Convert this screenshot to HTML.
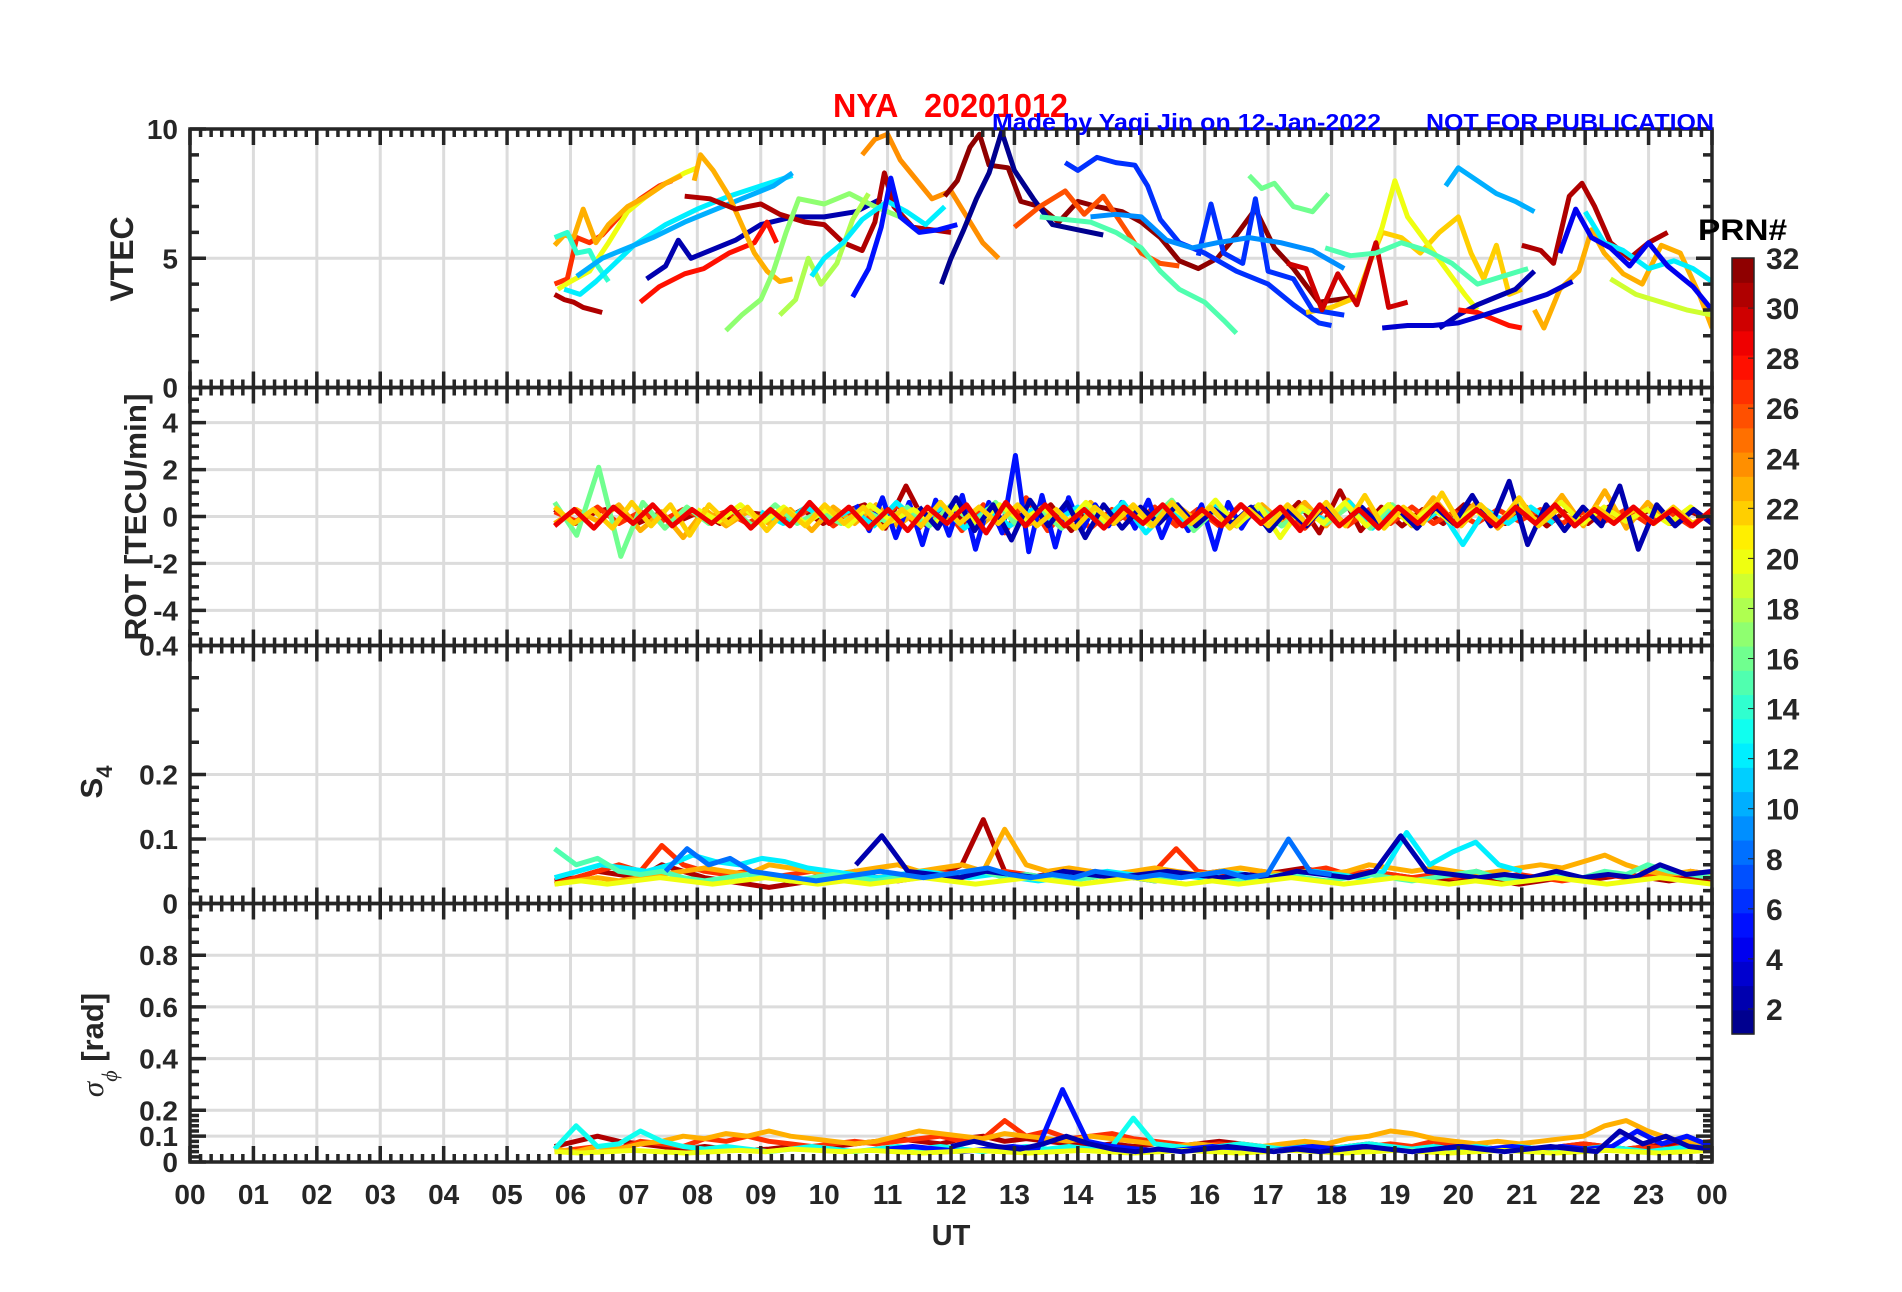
<!DOCTYPE html>
<html><head><meta charset="utf-8">
<style>
html,body{margin:0;padding:0;background:#fff;}
svg{display:block;font-family:"Liberation Sans",Arial,sans-serif;}
</style></head>
<body>
<svg id="fig" width="1902" height="1292" viewBox="0 0 1902 1292" xmlns="http://www.w3.org/2000/svg">
<rect width="1902" height="1292" fill="#fff"/>
<g id="grid"></g>
<g id="series"></g>
<g id="axes"></g>
<g id="cbar"></g>
<text x="833" y="117" font-size="33" font-weight="bold" fill="#ff0000" textLength="235" lengthAdjust="spacingAndGlyphs" xml:space="preserve">NYA   20201012</text>
<text x="992" y="130" font-size="23" font-weight="bold" fill="#0000ff" textLength="389" lengthAdjust="spacingAndGlyphs">Made by Yaqi Jin on 12-Jan-2022</text>
<text x="1426" y="130" font-size="23" font-weight="bold" fill="#0000ff" textLength="288" lengthAdjust="spacingAndGlyphs">NOT FOR PUBLICATION</text>
<text transform="translate(133,259) rotate(-90)" text-anchor="middle" font-size="32" font-weight="bold" fill="#262626">VTEC</text>
<text transform="translate(146,517) rotate(-90)" text-anchor="middle" font-size="31" font-weight="bold" fill="#262626" textLength="247" lengthAdjust="spacingAndGlyphs">ROT [TECU/min]</text>
<text transform="translate(102,782) rotate(-90)" text-anchor="middle" font-size="31" font-weight="bold" fill="#262626">S<tspan font-size="22" dy="10">4</tspan></text>
<text transform="translate(103,1045) rotate(-90)" text-anchor="middle" font-size="31" font-weight="bold" fill="#262626"><tspan font-family="'Liberation Serif',serif" font-style="italic" font-weight="normal">σ</tspan><tspan font-family="'Liberation Serif',serif" font-style="italic" font-weight="normal" font-size="22" dy="14">ϕ</tspan><tspan dy="-14"> [rad]</tspan></text>
<text x="951" y="1245" text-anchor="middle" font-size="29" font-weight="bold" fill="#262626">UT</text>
<text x="1698" y="240" font-size="30" font-weight="bold" fill="#000" textLength="89" lengthAdjust="spacingAndGlyphs">PRN#</text>
</svg>
<script>
// ---------------- data ----------------
const hourTicks = ["00","01","02","03","04","05","06","07","08","09","10","11","12","13","14","15","16","17","18","19","20","21","22","23","00"];
const vtecTicks = [0,5,10];
const rotTicks = [-4,-2,0,2,4];
const s4Ticks = [0,0.1,0.2,0.4];
const sigTicks = [0,0.1,0.2,0.4,0.6,0.8];
const cbarTicks = [2,4,6,8,10,12,14,16,18,20,22,24,26,28,30,32];

// VTEC series: prn, then [hour, TECU] points
const vtecPrn = [31,27,20,23,14,12,10,2,28,23,31,17,18,12,5,24,32,1,6,26,15,16,22,20,10,2,28,31,23,12,4,19,6,30,15,9,3];
const vtecPts = [
 [[5.75,3.6],[5.9,3.4],[6.05,3.3],[6.2,3.1],[6.35,3.0],[6.5,2.9]],
 [[5.75,4.0],[5.95,4.2],[6.1,5.8],[6.3,5.6],[6.5,5.9],[6.8,6.7],[7.1,7.3],[7.4,7.8],[7.6,8.0]],
 [[5.8,3.8],[6.0,4.1],[6.3,4.5],[6.6,5.6],[6.9,6.8],[7.2,7.4],[7.5,7.9],[7.8,8.3],[8.0,8.5]],
 [[5.75,5.5],[5.9,5.9],[6.05,5.8],[6.2,6.9],[6.4,5.6],[6.6,6.3],[6.9,7.0],[7.2,7.4],[7.5,7.9],[7.75,8.2]],
 [[5.75,5.8],[5.95,6.0],[6.1,5.2],[6.3,5.3],[6.4,4.8],[6.6,4.1]],
 [[5.9,3.8],[6.15,3.6],[6.4,4.1],[6.7,4.8],[7.0,5.5],[7.5,6.3],[8.0,6.9],[8.5,7.4],[9.0,7.8],[9.5,8.2]],
 [[6.1,4.3],[6.5,5.0],[6.8,5.3],[7.3,5.8],[7.8,6.4],[8.3,6.9],[8.8,7.4],[9.2,7.8],[9.5,8.3]],
 [[7.2,4.2],[7.5,4.7],[7.7,5.7],[7.9,5.0],[8.3,5.4],[8.6,5.7],[9.0,6.3],[9.5,6.6],[10.0,6.6],[10.5,6.8],[10.9,7.3]],
 [[7.1,3.3],[7.4,3.9],[7.8,4.4],[8.1,4.6],[8.5,5.2],[8.9,5.6],[9.1,6.4],[9.25,5.6]],
 [[7.95,8.0],[8.05,9.0],[8.25,8.4],[8.5,7.4],[8.7,6.3],[8.9,5.2],[9.1,4.5],[9.3,4.1],[9.5,4.2]],
 [[7.8,7.4],[8.2,7.3],[8.6,6.9],[9.0,7.1],[9.3,6.7],[9.7,6.4],[10.0,6.3],[10.3,5.6],[10.6,5.3],[10.8,6.4],[10.95,8.3],[11.1,7.0],[11.4,6.2],[11.7,6.1],[12.0,6.0]],
 [[8.45,2.2],[8.7,2.8],[9.0,3.4],[9.2,4.5],[9.4,6.0],[9.6,7.3],[10.0,7.1],[10.4,7.5],[10.8,7.0],[11.2,6.6]],
 [[9.3,2.8],[9.55,3.4],[9.75,5.0],[9.95,4.0],[10.2,4.8],[10.45,6.5],[10.7,7.5]],
 [[9.8,4.3],[10.0,5.0],[10.3,5.6],[10.6,6.5],[11.0,7.2],[11.3,6.8],[11.6,6.3],[11.9,7.0]],
 [[10.45,3.5],[10.7,4.6],[10.9,6.2],[11.05,8.1],[11.2,6.6],[11.5,6.0],[11.8,6.1],[12.1,6.3]],
 [[10.6,9.0],[10.8,9.6],[11.0,9.8],[11.2,8.8],[11.4,8.2],[11.7,7.3],[12.0,7.6],[12.2,6.8],[12.5,5.6],[12.75,5.0]],
 [[11.9,7.4],[12.1,8.0],[12.3,9.3],[12.45,9.8],[12.6,8.6],[12.9,8.5],[13.1,7.2],[13.4,7.0],[13.7,6.4],[14.0,7.2],[14.3,7.0],[14.7,6.8],[15.0,6.4],[15.3,5.8],[15.6,4.9],[15.9,4.6],[16.2,5.0],[16.5,5.9],[16.8,6.9],[17.1,5.4],[17.4,4.6],[17.8,3.3],[18.1,3.4],[18.4,3.5]],
 [[11.85,4.0],[12.0,5.0],[12.2,6.1],[12.4,7.3],[12.6,8.3],[12.8,9.9],[13.0,8.4],[13.3,7.3],[13.6,6.3],[14.0,6.1],[14.4,5.9]],
 [[13.8,8.7],[14.0,8.4],[14.3,8.9],[14.6,8.7],[14.9,8.6],[15.1,7.8],[15.3,6.5],[15.6,5.6],[16.0,5.2],[16.5,4.5],[17.0,4.0],[17.4,3.2],[17.8,2.5],[18.0,2.4]],
 [[13.0,6.2],[13.4,7.0],[13.8,7.6],[14.1,6.7],[14.4,7.4],[14.7,6.3],[15.0,5.2],[15.3,4.8],[15.6,4.7]],
 [[13.4,6.6],[13.8,6.5],[14.2,6.4],[14.6,6.0],[15.0,5.4],[15.3,4.5],[15.6,3.8],[16.0,3.3],[16.3,2.6],[16.5,2.1]],
 [[16.7,8.2],[16.9,7.7],[17.1,7.9],[17.4,7.0],[17.7,6.8],[17.95,7.5]],
 [[17.6,2.9],[18.0,3.1],[18.4,3.5],[18.6,4.8],[18.8,6.0],[19.1,5.8],[19.4,5.2],[19.7,6.0],[20.0,6.6],[20.2,5.2],[20.4,4.2],[20.6,5.5],[20.8,3.6],[21.0,3.8]],
 [[18.55,4.5],[18.8,6.2],[19.0,8.0],[19.2,6.6],[19.5,5.6],[19.8,4.6],[20.1,3.6],[20.3,3.0]],
 [[19.8,7.8],[20.0,8.5],[20.3,8.0],[20.6,7.5],[20.9,7.2],[21.2,6.8]],
 [[19.7,2.3],[20.0,2.8],[20.3,3.2],[20.6,3.5],[20.9,3.8],[21.2,4.5]],
 [[20.0,3.0],[20.3,2.9],[20.6,2.6],[20.8,2.4],[21.0,2.3]],
 [[21.0,5.5],[21.3,5.3],[21.5,4.8],[21.75,7.4],[21.95,7.9],[22.15,7.0],[22.4,5.6],[22.7,5.0],[23.0,5.6],[23.3,6.0]],
 [[21.2,3.0],[21.35,2.3],[21.6,3.8],[21.9,4.5],[22.1,6.1],[22.3,5.2],[22.6,4.4],[22.9,4.0],[23.2,5.5],[23.5,5.2],[23.8,3.6],[24.0,2.3]],
 [[22.0,6.8],[22.3,5.6],[22.6,5.3],[23.0,4.6],[23.4,4.9],[23.7,4.6],[24.0,4.1]],
 [[21.6,5.2],[21.85,6.9],[22.1,5.8],[22.4,5.4],[22.7,4.7],[23.0,5.6],[23.3,4.7],[23.7,3.9],[24.0,3.0]],
 [[22.4,4.2],[22.8,3.6],[23.2,3.3],[23.6,3.0],[24.0,2.8]],
 [[15.9,5.1],[16.1,7.1],[16.3,5.2],[16.6,4.8],[16.8,7.3],[17.0,4.5],[17.4,4.2],[17.7,3.0],[18.2,2.8]],
 [[17.3,4.8],[17.6,4.6],[17.85,3.0],[18.1,4.4],[18.4,3.2],[18.7,5.6],[18.9,3.1],[19.2,3.3]],
 [[17.9,5.4],[18.3,5.1],[18.7,5.2],[19.1,5.6],[19.5,5.3],[19.9,4.8],[20.3,4.0],[20.7,4.3],[21.1,4.6]],
 [[14.2,6.6],[14.6,6.7],[15.0,6.6],[15.4,5.7],[15.8,5.4],[16.2,5.6],[16.7,5.8],[17.2,5.6],[17.7,5.3],[18.2,4.6]],
 [[18.8,2.3],[19.2,2.4],[19.6,2.4],[20.0,2.5],[20.4,2.8],[20.9,3.2],[21.4,3.6],[21.8,4.1]]
];

// ROT series (TECU/min), evenly spaced between start and end hour
const rotPrn = [31,27,23,5,12,16,20,2,22,29];
const rotSpan = [[5.75,24],[5.75,24],[5.75,24],[10.5,17],[9,21.5],[5.75,20],[8,24],[11.5,24],[5.75,24],[5.75,24]];
const rotVals = [
 [0.3,-0.3,0.2,0.4,-0.3,0.1,-0.2,0.2,-0.3,0.2,0.1,-0.2,0.3,-0.3,0.2,0.5,-0.5,1.3,-0.4,0.3,-0.3,0.2,0.4,-0.3,0.5,-0.6,0.4,-0.3,0.3,-0.3,0.4,-0.4,0.3,-0.4,0.4,-0.3,0.6,-0.7,1.1,-0.6,0.4,-0.4,0.3,-0.3,0.5,0.3,-0.3,0.4,-0.4,0.3,-0.3,0.4,-0.2,0.3,-0.3,0.2,-0.2],
 [0.2,-0.2,0.4,-0.3,0.2,-0.2,0.3,-0.1,0.2,-0.3,0.2,-0.2,0.4,-0.4,0.3,-0.3,0.5,-0.5,0.6,-0.6,0.5,-0.7,0.8,-0.6,0.4,-0.5,0.3,-0.3,0.4,-0.4,0.3,-0.4,0.5,-0.3,0.3,-0.5,0.4,-0.4,0.3,-0.3,0.4,-0.3,0.2,-0.3,0.3,-0.2,0.3,-0.3,0.2,-0.2,0.3,-0.3,0.2,-0.4,0.2],
 [-0.3,0.3,-0.2,0.5,-0.6,0.2,-0.9,0.3,-0.4,0.2,-0.3,0.3,-0.6,0.4,-0.3,0.5,-0.4,0.3,-0.2,0.4,-0.3,0.5,-0.4,0.3,-0.3,0.6,-0.3,0.4,-0.3,0.5,-0.2,0.3,-0.4,0.5,-0.3,0.6,-0.4,0.7,-0.3,0.5,-0.4,0.8,-0.3,0.6,-0.5,0.4,-0.3,0.9,-0.4,1.1,-0.5,0.6,-0.3,0.4,-0.3],
 [0.5,-0.6,0.8,-0.9,0.6,-1.2,0.7,-0.8,0.9,-1.4,0.6,-0.7,2.6,-1.5,0.9,-1.3,0.8,-0.6,0.5,-0.4,0.6,-0.5,0.7,-0.9,0.4,-0.6,0.5,-1.4,0.6,-0.5,0.4,-0.4],
 [0.2,-0.3,0.4,-0.2,0.3,-0.4,0.6,-0.3,0.4,-0.5,0.3,-0.4,0.3,-0.2,0.4,-0.3,0.6,-0.7,0.3,-0.4,0.5,-0.3,0.4,-0.4,0.3,-0.2,0.6,-0.5,0.4,-0.4,0.3,-1.2,0.3,-0.3,0.4,-0.3],
 [0.6,-0.8,2.1,-1.7,0.6,-0.5,0.4,-0.3,0.3,-0.4,0.5,-0.3,0.2,-0.3,0.3,-0.2,0.4,-0.4,0.5,-0.3,0.6,-0.4,0.3,-0.5,0.4,-0.3,0.3,-0.2,0.7,-0.6,0.3,-0.3,0.4,-0.4,0.3,-0.3,0.4,-0.5,0.5,-0.4,0.3,-0.3],
 [0.3,-0.2,0.5,-0.3,0.4,-0.3,0.3,-0.4,0.5,-0.2,0.3,-0.3,0.4,-0.3,0.5,-0.2,0.4,-0.4,0.6,-0.3,0.3,-0.4,0.4,-0.3,0.7,-0.4,0.5,-0.9,0.4,-0.3,0.6,-0.4,0.5,-0.3,0.4,-0.3,0.3,-0.4,0.5,-0.3,0.6,-0.3,0.4,-0.2,0.3,-0.3,0.4,-0.3],
 [0.4,-0.5,0.8,-0.6,0.5,-1.0,0.7,-0.4,0.6,-0.9,0.5,-0.5,0.4,-0.3,0.5,-0.4,0.3,-0.3,0.4,-0.6,0.3,-0.4,0.5,-0.3,0.4,-0.4,0.3,-0.5,0.4,-0.3,0.9,-0.4,1.5,-1.2,0.5,-0.6,0.4,-0.4,1.3,-1.4,0.5,-0.4,0.3,-0.3],
 [0.4,-0.3,0.3,-0.5,0.6,-0.4,0.5,-0.8,0.5,-0.3,0.4,-0.6,0.3,-0.4,0.5,-0.3,0.4,-0.5,0.3,-0.4,0.6,-0.3,0.4,-0.3,0.5,-0.4,0.3,-0.5,0.4,-0.3,0.5,-0.4,0.6,-0.3,0.4,-0.5,0.3,-0.4,0.5,-0.3,0.6,-0.4,0.9,-0.5,0.4,-0.3,1.0,-0.4,0.5,-0.3,0.8,-0.4,0.3,-0.3,0.4,-0.2,0.3,-0.3,0.4,-0.3,0.2],
 [-0.4,0.3,-0.5,0.4,-0.3,0.5,-0.4,0.3,-0.3,0.4,-0.5,0.3,-0.4,0.6,-0.3,0.4,-0.5,0.3,-0.6,0.4,-0.3,0.5,-0.7,0.6,-0.4,0.5,-0.4,0.3,-0.5,0.4,-0.3,0.5,-0.4,0.3,-0.4,0.5,-0.3,0.4,-0.6,0.5,-0.4,0.3,-0.5,0.4,-0.3,0.5,-0.4,0.3,-0.4,0.4,-0.3,0.5,-0.4,0.3,-0.3,0.4,-0.3,0.3,-0.4,0.3]
];

// S4 series
const s4Prn = [31,27,23,12,15,2,20,8];
const s4Span = [[5.75,24],[5.75,24],[5.75,24],[5.75,21],[5.75,24],[10.5,24],[5.75,24],[7.5,18]];
const s4Vals = [
 [0.035,0.04,0.05,0.045,0.04,0.06,0.05,0.04,0.035,0.03,0.025,0.03,0.035,0.04,0.05,0.04,0.035,0.04,0.045,0.06,0.13,0.05,0.04,0.045,0.04,0.05,0.045,0.04,0.035,0.04,0.045,0.05,0.04,0.045,0.05,0.055,0.045,0.04,0.05,0.045,0.04,0.04,0.035,0.04,0.035,0.03,0.035,0.04,0.035,0.04,0.045,0.04,0.035,0.04,0.035],
 [0.03,0.04,0.05,0.06,0.05,0.09,0.06,0.05,0.045,0.05,0.04,0.045,0.05,0.04,0.035,0.04,0.045,0.04,0.05,0.04,0.045,0.05,0.045,0.04,0.05,0.04,0.045,0.04,0.05,0.085,0.05,0.045,0.04,0.05,0.045,0.05,0.055,0.045,0.05,0.045,0.04,0.045,0.04,0.05,0.04,0.045,0.04,0.035,0.04,0.045,0.04,0.045,0.04,0.05,0.045],
 [0.03,0.035,0.04,0.035,0.04,0.045,0.05,0.055,0.05,0.045,0.06,0.055,0.05,0.045,0.05,0.055,0.06,0.05,0.055,0.06,0.05,0.115,0.06,0.05,0.055,0.05,0.045,0.05,0.055,0.05,0.045,0.05,0.055,0.05,0.045,0.05,0.045,0.05,0.06,0.055,0.05,0.055,0.05,0.045,0.05,0.055,0.06,0.055,0.065,0.075,0.06,0.05,0.045,0.05,0.045],
 [0.04,0.05,0.06,0.055,0.05,0.06,0.075,0.065,0.06,0.07,0.065,0.055,0.05,0.045,0.04,0.045,0.05,0.045,0.04,0.045,0.04,0.035,0.04,0.045,0.05,0.045,0.04,0.045,0.04,0.05,0.045,0.04,0.045,0.05,0.045,0.04,0.05,0.11,0.06,0.08,0.095,0.06,0.05],
 [0.085,0.06,0.07,0.05,0.045,0.05,0.04,0.035,0.04,0.045,0.04,0.035,0.04,0.045,0.04,0.035,0.04,0.045,0.04,0.045,0.05,0.04,0.045,0.04,0.035,0.04,0.045,0.04,0.035,0.04,0.045,0.04,0.035,0.04,0.045,0.04,0.035,0.04,0.045,0.04,0.035,0.04,0.045,0.05,0.04,0.035,0.04,0.045,0.04,0.05,0.045,0.06,0.05,0.045,0.04],
 [0.06,0.105,0.05,0.045,0.04,0.05,0.045,0.04,0.05,0.045,0.04,0.045,0.05,0.045,0.04,0.045,0.04,0.05,0.045,0.04,0.05,0.105,0.05,0.045,0.04,0.045,0.04,0.05,0.04,0.045,0.04,0.06,0.045,0.05],
 [0.03,0.035,0.03,0.035,0.04,0.035,0.03,0.035,0.04,0.035,0.03,0.035,0.03,0.035,0.04,0.035,0.03,0.035,0.04,0.035,0.03,0.035,0.04,0.035,0.03,0.035,0.03,0.035,0.04,0.035,0.03,0.035,0.04,0.035,0.03,0.035,0.03,0.035,0.04,0.035,0.03,0.035,0.04,0.035,0.03],
 [0.05,0.085,0.06,0.07,0.05,0.045,0.04,0.035,0.04,0.045,0.05,0.045,0.04,0.045,0.05,0.055,0.045,0.04,0.045,0.04,0.05,0.045,0.04,0.045,0.04,0.045,0.05,0.04,0.045,0.1,0.05,0.045]
];

// sigma-phi series (rad)
const sigPrn = [31,27,23,13,5,20,2];
const sigSpan = [[5.75,24],[5.75,24],[5.75,24],[5.75,24],[11,24],[5.75,24],[12,24]];
const sigVals = [
 [0.06,0.08,0.1,0.08,0.07,0.06,0.05,0.06,0.05,0.045,0.05,0.06,0.05,0.06,0.07,0.08,0.09,0.08,0.07,0.09,0.1,0.08,0.09,0.08,0.07,0.06,0.07,0.06,0.07,0.06,0.07,0.08,0.07,0.06,0.05,0.06,0.05,0.06,0.07,0.06,0.05,0.06,0.07,0.06,0.05,0.06,0.05,0.06,0.07,0.06,0.05,0.06,0.07,0.06,0.07],
 [0.04,0.05,0.06,0.05,0.08,0.07,0.06,0.09,0.08,0.1,0.08,0.07,0.06,0.07,0.08,0.07,0.08,0.09,0.1,0.08,0.09,0.16,0.1,0.12,0.09,0.1,0.11,0.09,0.08,0.07,0.06,0.07,0.06,0.05,0.06,0.07,0.06,0.05,0.06,0.07,0.06,0.08,0.07,0.06,0.05,0.06,0.05,0.06,0.07,0.06,0.05,0.06,0.05,0.07,0.08],
 [0.05,0.04,0.06,0.05,0.07,0.08,0.1,0.09,0.11,0.1,0.12,0.1,0.09,0.08,0.07,0.08,0.1,0.12,0.11,0.1,0.09,0.11,0.1,0.09,0.08,0.1,0.09,0.08,0.07,0.06,0.07,0.06,0.07,0.06,0.07,0.08,0.07,0.09,0.1,0.12,0.11,0.09,0.08,0.07,0.08,0.07,0.08,0.09,0.1,0.14,0.16,0.12,0.09,0.08,0.07],
 [0.05,0.14,0.06,0.07,0.12,0.08,0.06,0.05,0.06,0.05,0.04,0.05,0.06,0.05,0.04,0.05,0.06,0.05,0.06,0.05,0.04,0.05,0.06,0.05,0.06,0.05,0.06,0.17,0.07,0.06,0.05,0.06,0.07,0.06,0.05,0.06,0.05,0.06,0.07,0.06,0.05,0.06,0.05,0.06,0.05,0.06,0.05,0.04,0.05,0.06,0.05,0.04,0.05,0.06,0.05],
 [0.05,0.06,0.05,0.04,0.05,0.06,0.05,0.28,0.08,0.06,0.05,0.04,0.05,0.06,0.05,0.04,0.05,0.06,0.05,0.06,0.05,0.04,0.05,0.06,0.05,0.06,0.05,0.06,0.05,0.06,0.12,0.07,0.1,0.06],
 [0.04,0.035,0.04,0.045,0.04,0.035,0.04,0.045,0.04,0.05,0.045,0.04,0.045,0.04,0.035,0.04,0.045,0.04,0.035,0.04,0.045,0.04,0.035,0.04,0.045,0.04,0.035,0.04,0.045,0.04,0.035,0.04,0.045,0.04,0.035,0.04,0.045,0.04,0.035,0.04,0.045,0.04,0.035,0.04,0.045],
 [0.06,0.08,0.06,0.05,0.07,0.1,0.07,0.05,0.04,0.05,0.04,0.05,0.06,0.05,0.04,0.05,0.04,0.05,0.06,0.05,0.04,0.05,0.06,0.05,0.04,0.05,0.06,0.05,0.04,0.12,0.07,0.1,0.06,0.05]
];

// ---------------- layout ----------------
const NS = "http://www.w3.org/2000/svg";
const L = 190, R = 1712;
const panels = [
 {name:"vtec", top:129, bot:387.5, min:0, max:10},
 {name:"rot", top:387.5, bot:645.5, min:-5.5, max:5.5},
 {name:"s4", top:645.5, bot:903.5, min:0, max:0.4},
 {name:"sigma", top:903.5, bot:1162, min:0, max:1}
];
const xScale = h => L + (R - L) * h / 24;
const yScale = (p, v) => p.bot - (v - p.min) / (p.max - p.min) * (p.bot - p.top);

function jet(v){
  const r = Math.max(0, Math.min(1, 1.5 - Math.abs(4*v - 3)));
  const g = Math.max(0, Math.min(1, 1.5 - Math.abs(4*v - 2)));
  const b = Math.max(0, Math.min(1, 1.5 - Math.abs(4*v - 1)));
  return `rgb(${Math.round(r*255)},${Math.round(g*255)},${Math.round(b*255)})`;
}
const prnColor = prn => jet((prn - 0.5) / 32);

function mk(tag, attrs, parent){
  const e = document.createElementNS(NS, tag);
  for (const k in attrs) e.setAttribute(k, attrs[k]);
  parent.appendChild(e);
  return e;
}
const gGrid = document.getElementById('grid');
const gSer = document.getElementById('series');
const gAx = document.getElementById('axes');
const gCb = document.getElementById('cbar');
const AX = "#262626";

panels.forEach((p, pi) => {
  for (let h = 1; h < 24; h++) {
    const ln = mk('line', {x1:xScale(h), x2:xScale(h), y1:p.top, y2:p.bot, stroke:"#dcdcdc", "stroke-width":3}, gGrid);
    
    
  }
  const ticks = [vtecTicks, rotTicks, s4Ticks, sigTicks][pi];
  ticks.forEach(v => {
    const ln = mk('line', {x1:L, x2:R, y1:yScale(p,v), y2:yScale(p,v), stroke:"#dcdcdc", "stroke-width":3}, gGrid);
    
    
  });
});

const defs = mk('defs', {}, document.getElementById('fig'));
panels.forEach((p, i) => {
  const cp = mk('clipPath', {id:'clip'+i}, defs);
  mk('rect', {x:L, y:p.top, width:R-L, height:p.bot-p.top}, cp);
});

function drawPts(p, pi, pts, prn, name){
  const d = pts.map((q, i) => (i ? 'L' : 'M') + xScale(q[0]).toFixed(1) + ' ' + yScale(p, q[1]).toFixed(1)).join(' ');
  const path = mk('path', {d, fill:"none", stroke:prnColor(prn), "stroke-width":5, "stroke-linejoin":"round", "clip-path":`url(#clip${pi})`}, gSer);
  
  
}
function spanPts(span, vals){
  const n = vals.length;
  return vals.map((v, i) => [span[0] + (span[1] - span[0]) * i / (n - 1), v]);
}

vtecPts.forEach((pts, i) => drawPts(panels[0], 0, pts, vtecPrn[i], 'vtec-series-prn' + vtecPrn[i]));
rotVals.forEach((vals, i) => drawPts(panels[1], 1, spanPts(rotSpan[i], vals), rotPrn[i], 'rot-series-prn' + rotPrn[i]));
s4Vals.forEach((vals, i) => drawPts(panels[2], 2, spanPts(s4Span[i], vals), s4Prn[i], 's4-series-prn' + s4Prn[i]));
sigVals.forEach((vals, i) => drawPts(panels[3], 3, spanPts(sigSpan[i], vals), sigPrn[i], 'sigma-series-prn' + sigPrn[i]));

const minorY = [
  [1,2,3,4,6,7,8,9],
  [-5,-4.5,-3.5,-3,-2.5,-1.5,-1,-0.5,0.5,1,1.5,2.5,3,3.5,4.5,5],
  [0.02,0.04,0.06,0.08,0.12,0.14,0.16,0.18,0.25,0.3,0.35],
  [0.02,0.04,0.06,0.08,0.12,0.14,0.16,0.18,0.25,0.3,0.35,0.45,0.5,0.55,0.65,0.7,0.75,0.85,0.9,0.95]
];
const tickFmt = v => (Math.abs(v) < 1e-9 ? "0" : String(v));
panels.forEach((p, pi) => {
  const fr = mk('rect', {x:L, y:p.top, width:R-L, height:p.bot-p.top, fill:"none", stroke:AX, "stroke-width":3.5}, gAx);
  
  
  let d = '';
  for (let m = 0; m <= 24*6; m++) {
    const x = xScale(m/6), len = (m % 6 === 0) ? 16 : 8;
    d += `M${x} ${p.top}v${len}M${x} ${p.bot}v${-len}`;
  }
  const ticks = [vtecTicks, rotTicks, s4Ticks, sigTicks][pi];
  ticks.forEach(v => { const y = yScale(p, v); d += `M${L} ${y}h16M${R} ${y}h-16`; });
  minorY[pi].forEach(v => { const y = yScale(p, v); d += `M${L} ${y}h9M${R} ${y}h-9`; });
  const tp = mk('path', {d, stroke:AX, "stroke-width":3.5, fill:"none"}, gAx);
  
  
  ticks.forEach(v => {
    const t = mk('text', {x:178, y:yScale(p, v) + 10, "text-anchor":"end", "font-size":28, "font-weight":"bold", fill:AX}, gAx);
    t.textContent = tickFmt(v);
    
    
  });
});
hourTicks.forEach((lab, i) => {
  const t = mk('text', {x:xScale(i), y:1204, "text-anchor":"middle", "font-size":28, "font-weight":"bold", fill:AX}, gAx);
  t.textContent = lab;
  
  
});

// colorbar
const CB = {x:1732, w:22, top:258, bot:1034, min:1, max:32};
const cbY = v => CB.bot - (v - CB.min) / (CB.max - CB.min) * (CB.bot - CB.top);
for (let k = 0; k < 32; k++) {
  const h = (CB.bot - CB.top) / 32;
  const r = mk('rect', {x:CB.x, y:CB.bot - (k+1)*h, width:CB.w, height:h + 0.6, fill:jet((k + 0.5)/32)}, gCb);
  
  
}
const cbf = mk('rect', {x:CB.x, y:CB.top, width:CB.w, height:CB.bot-CB.top, fill:"none", stroke:"#262626", "stroke-width":1.5}, gCb);


cbarTicks.forEach(v => {
  const y = cbY(v);
  const tl = mk('line', {x1:CB.x + CB.w - 6, x2:CB.x + CB.w, y1:y, y2:y, stroke:"#262626", "stroke-width":1}, gCb);
  
  
  const t = mk('text', {x:1766, y:y + 11, "font-size":30, "font-weight":"bold", fill:AX}, gCb);
  t.textContent = String(v);
  
  
});
</script>
</body></html>
